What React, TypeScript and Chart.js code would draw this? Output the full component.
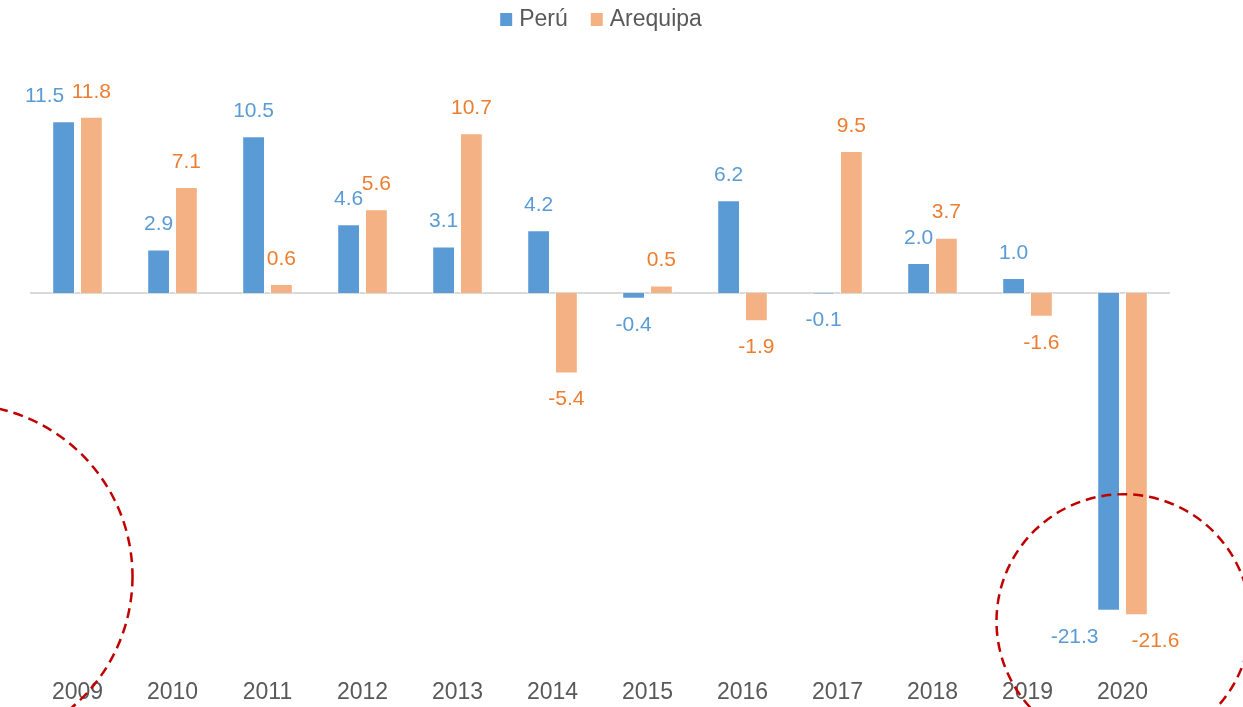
import React, { useEffect, useRef } from "react";
import { Chart, registerables } from "chart.js";

Chart.register(...registerables);

const years = ["2009", "2010", "2011", "2012", "2013", "2014", "2015", "2016", "2017", "2018", "2019", "2020"];
const peru = [11.5, 2.9, 10.5, 4.6, 3.1, 4.2, -0.4, 6.2, -0.1, 2.0, 1.0, -21.3];
const arequipa = [11.8, 7.1, 0.6, 5.6, 10.7, -5.4, 0.5, -1.9, 9.5, 3.7, -1.6, -21.6];
const seriesNames = ["Perú", "Arequipa"];

const FONT = "'Liberation Sans', Arial, sans-serif";
const barColors = ["#5B9BD5", "#F4B183"];
const labelColors = ["#5B9BD5", "#ED7D31"];
const textGrey = "#595959";

// horizontal nudges for labels that would collide (dataset-index)
const labelNudge: Record<string, number> = { "0-0": -19, "0-11": -34, "1-11": 19 };

const overlayPlugin = {
  id: "overlay",
  beforeDatasetsDraw(chart: any) {
    const ctx = chart.ctx;
    const area = chart.chartArea;
    const y0 = chart.scales.y.getPixelForValue(0);
    ctx.save();
    ctx.strokeStyle = "#D9D9D9";
    ctx.lineWidth = 2;
    ctx.beginPath();
    ctx.moveTo(area.left, y0);
    ctx.lineTo(area.right, y0);
    ctx.stroke();
    ctx.restore();
  },
  afterDatasetsDraw(chart: any) {
    const ctx = chart.ctx;
    const area = chart.chartArea;
    const yScale = chart.scales.y;
    const xScale = chart.scales.x;

    // data labels
    ctx.save();
    ctx.font = `21px ${FONT}`;
    ctx.textAlign = "center";
    ctx.textBaseline = "middle";
    chart.data.datasets.forEach((ds: any, di: number) => {
      const meta = chart.getDatasetMeta(di);
      meta.data.forEach((el: any, i: number) => {
        const v = ds.data[i];
        const nudge = labelNudge[`${di}-${i}`] || 0;
        const y = v >= 0 ? el.y - 25 : el.y + 26;
        ctx.fillStyle = labelColors[di];
        ctx.fillText(v.toFixed(1), el.x + nudge, y);
      });
    });
    ctx.restore();

    // legend (centered over chart area)
    ctx.save();
    ctx.font = `23px ${FONT}`;
    ctx.textBaseline = "middle";
    const box = 12, gapBoxText = 7, gapItems = 23;
    const widths = seriesNames.map((n) => box + gapBoxText + ctx.measureText(n).width);
    const total = widths.reduce((a, b) => a + b, 0) + gapItems * (widths.length - 1);
    let lx = (area.left + area.right) / 2 - total / 2 + 1;
    const ly = 19;
    seriesNames.forEach((n, i) => {
      ctx.fillStyle = barColors[i];
      ctx.fillRect(lx, ly - box / 2, box, box + 1);
      ctx.fillStyle = textGrey;
      ctx.textAlign = "left";
      ctx.fillText(n, lx + box + gapBoxText, ly + 1);
      lx += widths[i] + gapItems;
    });
    ctx.restore();

    // dashed highlight circles anchored to categories
    ctx.save();
    ctx.strokeStyle = "#C00000";
    ctx.lineWidth = 2.5;
    ctx.setLineDash([10, 6]);
    const circles = [
      { idx: 0, dx: -117, v: -19, r: 172 },
      { idx: 11, dx: 1, v: -22, r: 127 },
    ];
    circles.forEach((c) => {
      const cx = xScale.getPixelForValue(c.idx) + c.dx;
      const cy = yScale.getPixelForValue(c.v);
      ctx.beginPath();
      ctx.arc(cx, cy, c.r, 0, Math.PI * 2);
      ctx.stroke();
    });
    ctx.restore();
  },
};

export default function App() {
  const ref = useRef<HTMLCanvasElement>(null);
  useEffect(() => {
    if (!ref.current) return;
    const chart = new Chart(ref.current, {
      type: "bar",
      data: {
        labels: years,
        datasets: [
          {
            label: seriesNames[0],
            data: peru,
            backgroundColor: barColors[0],
            borderColor: "#FFFFFF",
            borderWidth: 1,
            categoryPercentage: 0.585,
            barPercentage: 0.82,
          },
          {
            label: seriesNames[1],
            data: arequipa,
            backgroundColor: barColors[1],
            borderColor: "#FFFFFF",
            borderWidth: 1,
            categoryPercentage: 0.585,
            barPercentage: 0.82,
          },
        ],
      },
      options: {
        animation: false,
        responsive: false,
        maintainAspectRatio: false,
        layout: { padding: { left: 30, right: 73, top: 69, bottom: 2 } },
        plugins: {
          legend: { display: false },
          tooltip: { enabled: false },
        },
        scales: {
          x: {
            grid: { display: false, drawTicks: false },
            border: { display: false },
            ticks: {
              color: textGrey,
              font: { family: FONT, size: 23 },
              padding: 13,
              maxRotation: 0,
            },
            afterFit: (scale: any) => {
              scale.height = 39;
            },
          },
          y: {
            display: false,
            min: -25,
            max: 15,
          },
        },
      },
      plugins: [overlayPlugin],
    });
    return () => chart.destroy();
  }, []);
  return (
    <div style={{ position: "absolute", left: 0, top: 0, width: 1243, height: 707, background: "#fff" }}>
      <canvas ref={ref} width={1243} height={707} style={{ width: 1243, height: 707 }} />
    </div>
  );
}
